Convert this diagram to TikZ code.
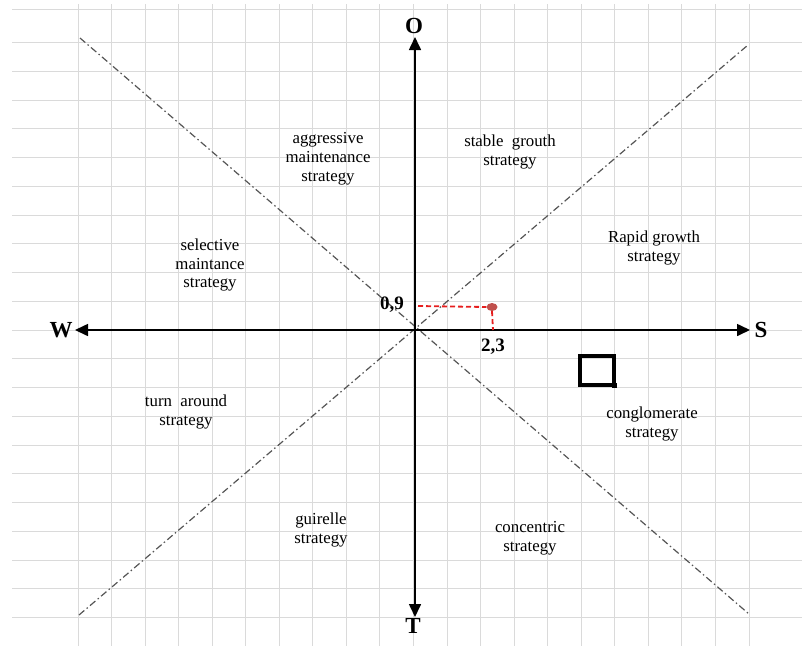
\documentclass[tikz,border=0pt]{standalone}
\usepackage{fontspec}
\setmainfont{Liberation Serif}
\usepackage{tikz}
\usetikzlibrary{arrows.meta,shapes.geometric}
\definecolor{GridLn} {RGB}{218,218,218}
\definecolor{DiagLn} {RGB}{85,85,85}
\definecolor{PtRed}  {RGB}{192,80,77}
\definecolor{DashRed}{RGB}{230,30,30}
\tikzset{
  gridln/.style={draw=GridLn, line width=1pt},
  diag/.style={draw=DiagLn, line width=1.2pt,
    dash pattern=on 7pt off 3pt on 1.5pt off 3pt},
  axis/.style={line width=1.6pt,
    {Triangle[length=13pt,width=12pt]}-{Triangle[length=13pt,width=12pt]}},
  axlbl/.style={font=\fontsize{23}{25}\selectfont\bfseries, inner sep=0pt},
  vallbl/.style={font=\fontsize{19}{21}\selectfont\bfseries, inner sep=0pt},
  strat/.style={font=\fontsize{16.8}{18.8}\selectfont, align=center, inner sep=0pt},
  reddash/.style={draw=DashRed, line width=1.8pt, dash pattern=on 5pt off 3pt},
}

\begin{document}
\begin{tikzpicture}[x=1pt,y=-1pt]
\useasboundingbox (0,0) rectangle (802,646);

%% grid
\foreach \i in {0,...,20}
  {\draw[gridln] (78+33.55*\i,4) -- (78+33.55*\i,646);}
\draw[gridln] (12,9) -- (802,9);
\foreach \k in {-10,...,10}
  {\draw[gridln] (12,330+28.75*\k) -- (802,330+28.75*\k);}

\coordinate (ctr) at (415,330);

%% diagonals
\coordinate (dTL) at (80,38);   \coordinate (dBR) at (749,614);
\coordinate (dBL) at (79,615);  \coordinate (dTR) at (748,45);
\draw[diag] (dTL) -- (dBR);
\draw[diag] (dBL) -- (dTR);

%% axes
\node[axlbl] at (414,26)  (O){O};
\node[axlbl] at (413,626) (T){T};
\node[axlbl] at (61,330)  (W){W};
\node[axlbl] at (761,330) (S){S};
\coordinate (aO) at (415,37);  \coordinate (aT) at (415,617);
\coordinate (aW) at (75,330);  \coordinate (aS) at (750,330);
\draw[axis] (aT) -- (aO);
\draw[axis] (aW) -- (aS);

%% point
\coordinate (px) at (418,306);
\coordinate (py) at (493,330);
\node[ellipse, fill=PtRed, minimum width=11pt, minimum height=8pt, inner sep=0pt]
  at (492,307) (pt){};
\draw[reddash] (px) -- (pt.west);
\draw[reddash] (pt.south) -- (py);
\node[vallbl] at (392,305) (v09){0,9};
\node[vallbl] at (493,347) (v23){2,3};

%% square
\draw[line width=3.4pt] (580,356) rectangle (614,385);
\fill (611.5,382.5) rectangle (617,388);

%% strategies
\node[strat] at (328,159) (agg){aggressive\\maintenance\\strategy};
\node[strat] at (510,152) (stab){stable\ \ grouth\\strategy};
\node[strat] at (210,265) (sel){selective\\maintance\\strategy};
\node[strat] at (654,248) (rap){Rapid growth\\strategy};
\node[strat] at (186,412) (turn){turn\ \ around\\strategy};
\node[strat] at (652,424) (cong){conglomerate\\strategy};
\node[strat] at (321,530) (guir){guirelle\\strategy};
\node[strat] at (530,538) (conc){concentric\\strategy};

\end{tikzpicture}
\end{document}
